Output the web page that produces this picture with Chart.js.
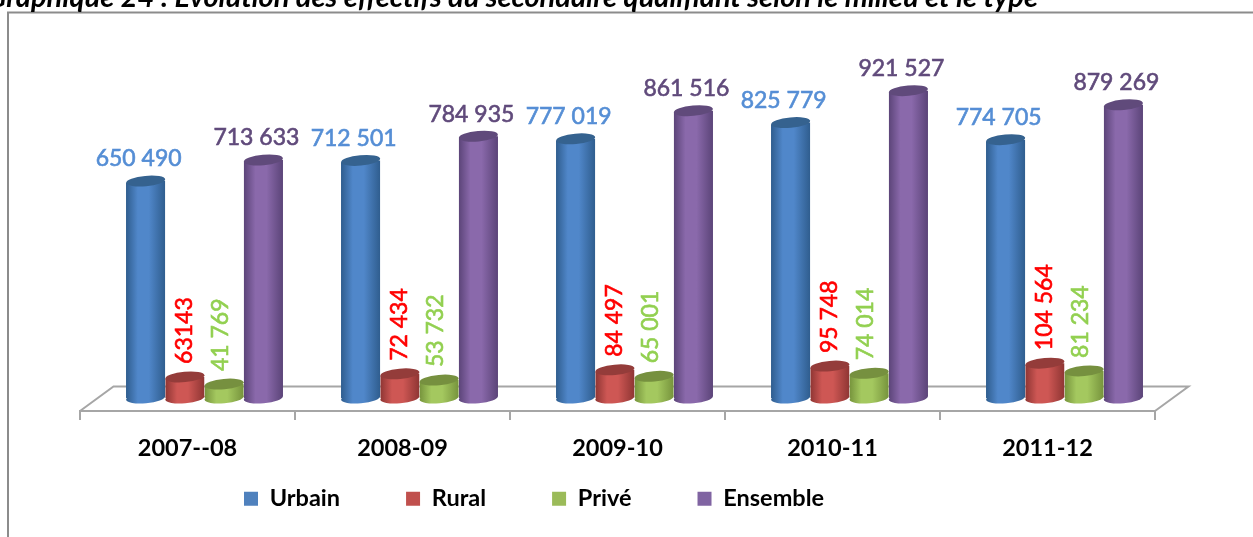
<!DOCTYPE html>
<html><head><meta charset="utf-8">
<style>html,body{margin:0;padding:0;background:#fff;overflow:hidden}#w{position:relative;width:1253px;height:537px}canvas{display:block}</style>
</head><body><div id="w"><canvas id="c" width="1253" height="537"></canvas></div>
<script src="https://cdn.jsdelivr.net/npm/chart.js@4"></script>
<script>
const categories = ['2007--08','2008-09','2009-10','2010-11','2011-12'];
const urbain = [650490,712501,777019,825779,774705];
const rural = [63143,72434,84497,95748,104564];
const prive = [41769,53732,65001,74014,81234];
const ensemble = [713633,784935,861516,921527,879269];
const urbainLabels = ['650 490','712 501','777 019','825 779','774 705'];
const ruralLabels = ['63143','72 434','84 497','95 748','104 564'];
const priveLabels = ['41 769','53 732','65 001','74 014','81 234'];
const ensembleLabels = ['713 633','784 935','861 516','921 527','879 269'];
const titleText = 'Graphique 24 : Évolution des effectifs du secondaire qualifiant selon le milieu et le type';

const FONT = 'Lato, "Open Sans", sans-serif';
const DX = 17, DY = -13, BX = 33.5, BY = -24.5;
const TILT = -5.3 * Math.PI / 180, RY = 5.2;
const looks = [
 {edge:'#2f5d8e',mid:'#5087ca',top:'#35628f',label:'#558ed5',rot:false,lx:-7,ly:-22},
 {edge:'#8e3533',mid:'#ce5754',top:'#943c3a',label:'#ff0000',rot:true,lx:0,ly:-13},
 {edge:'#76933c',mid:'#a4c85f',top:'#76903f',label:'#92d050',rot:true,lx:-4,ly:-13},
 {edge:'#5b4478',mid:'#8a69ab',top:'#604a7b',label:'#604a7b',rot:false,lx:-7,ly:-22}
];
const allLabels = [urbainLabels,ruralLabels,priveLabels,ensembleLabels];

const cylinder = {
 id:'cylinder',
 beforeLayout(chart){
  const l = chart.legend;
  if(!l.$wrapped){
   const f = l.fit;
   l.fit = function(){ f.call(this); this.height = 72; };
   l.$wrapped = true;
  }
 },
 afterLayout(chart){
  const l = chart.legend;
  l.left = 178; l.right = 1253; l.top = 421; l.bottom = 537;
 },
 afterDatasetsUpdate(chart){
  chart.data.datasets.forEach((d,i)=>{
   const look = looks[i];
   chart.getDatasetMeta(i).data.forEach(el=>{
    const g = chart.ctx.createLinearGradient(el.x-el.width/2,0,el.x+el.width/2,0);
    g.addColorStop(0,look.edge); g.addColorStop(.3,look.mid); g.addColorStop(.58,look.mid); g.addColorStop(1,look.edge);
    el.options = Object.assign({},el.options,{backgroundColor:g});
    el.$grad = g;
   });
  });
 },
 beforeDraw(chart){
  const c = chart.ctx;
  c.save();
  c.strokeStyle='#8c8c8c'; c.lineWidth=2;
  c.beginPath(); c.moveTo(8,537); c.lineTo(8,12.5); c.lineTo(1253,12.5); c.stroke();
  c.fillStyle='#000'; c.font='italic bold 29px '+FONT;
  c.textAlign='right'; c.textBaseline='alphabetic';
  c.fillText(titleText,1038,7);
  c.restore();
 },
 beforeDatasetsDraw(chart){
  const c = chart.ctx, a = chart.chartArea;
  c.save();
  c.strokeStyle='#a6a6a6'; c.lineWidth=2;
  c.beginPath();
  c.moveTo(a.left,a.bottom); c.lineTo(a.left+BX,a.bottom+BY); c.lineTo(a.right+BX,a.bottom+BY); c.lineTo(a.right,a.bottom);
  c.stroke();
  c.restore();
 },
 beforeDatasetDraw(chart,args){
  const c = chart.ctx, meta = args.meta;
  c.save();
  c.translate(DX,DY);
  meta.data.forEach(el=>{
   c.fillStyle = el.$grad;
   c.beginPath(); c.ellipse(el.x,el.base,el.width/2,RY,TILT,0,Math.PI*2); c.fill();
  });
  c.save();
  c.beginPath();
  meta.data.forEach(el=>{
   const s = Math.tan(-TILT)*el.width/2, l = el.x-el.width/2, r = el.x+el.width/2;
   c.moveTo(l,el.y+s); c.lineTo(r,el.y-s); c.lineTo(r,el.base-s); c.lineTo(l,el.base+s); c.closePath();
  });
  c.clip();
 },
 afterDatasetDraw(chart,args){
  const c = chart.ctx, meta = args.meta, look = looks[args.index];
  c.restore();
  c.fillStyle = look.top;
  meta.data.forEach(el=>{
   c.beginPath(); c.ellipse(el.x,el.y,el.width/2,RY,TILT,0,Math.PI*2); c.fill();
  });
  c.restore();
 },
 afterDatasetsDraw(chart){
  const c = chart.ctx;
  chart.data.datasets.forEach((d,i)=>{
   const look = looks[i];
   chart.getDatasetMeta(i).data.forEach((el,j)=>{
    const x = el.x+DX+look.lx, y = el.y+DY+look.ly;
    c.save();
    c.fillStyle = look.label;
    c.strokeStyle = look.label;
    c.lineWidth = .6;
    c.font = '23px '+FONT;
    c.translate(x,y);
    if(look.rot){ c.rotate(-Math.PI/2); c.textAlign='left'; }
    else c.textAlign='center';
    c.textBaseline='middle';
    c.fillText(allLabels[i][j],0,0);
    c.strokeText(allLabels[i][j],0,0);
    c.restore();
   });
  });
 }
};

new Chart(document.getElementById('c'),{
 type:'bar',
 data:{labels:categories,datasets:[
  {label:'Urbain',data:urbain,backgroundColor:'#4f81bd',clip:false},
  {label:'Rural',data:rural,backgroundColor:'#c0504d',clip:false},
  {label:'Privé',data:prive,backgroundColor:'#9bbb59',clip:false},
  {label:'Ensemble',data:ensemble,backgroundColor:'#8064a2',clip:false}
 ]},
 options:{
  responsive:false,animation:false,
  layout:{padding:{left:80,right:98,top:77.5,bottom:0}},
  datasets:{bar:{categoryPercentage:.73,barPercentage:1,borderWidth:0}},
  scales:{
   x:{
    afterFit(s){s.height=54;},
    grid:{offset:true,drawOnChartArea:false,drawTicks:true,tickLength:9,color:'#a6a6a6',lineWidth:2},
    border:{color:'#a6a6a6',width:2},
    ticks:{color:'#000',font:{family:FONT,size:23.5,weight:'bold'},padding:14,maxRotation:0}
   },
   y:{display:false,min:0,max:1000000}
  },
  plugins:{
   tooltip:{enabled:false},
   legend:{position:'bottom',align:'start',
    labels:{boxWidth:14,boxHeight:14,padding:66,color:'#000',font:{family:FONT,size:23.5,weight:'bold'}}}
  }
 },
 plugins:[cylinder]
});
</script></body></html>
